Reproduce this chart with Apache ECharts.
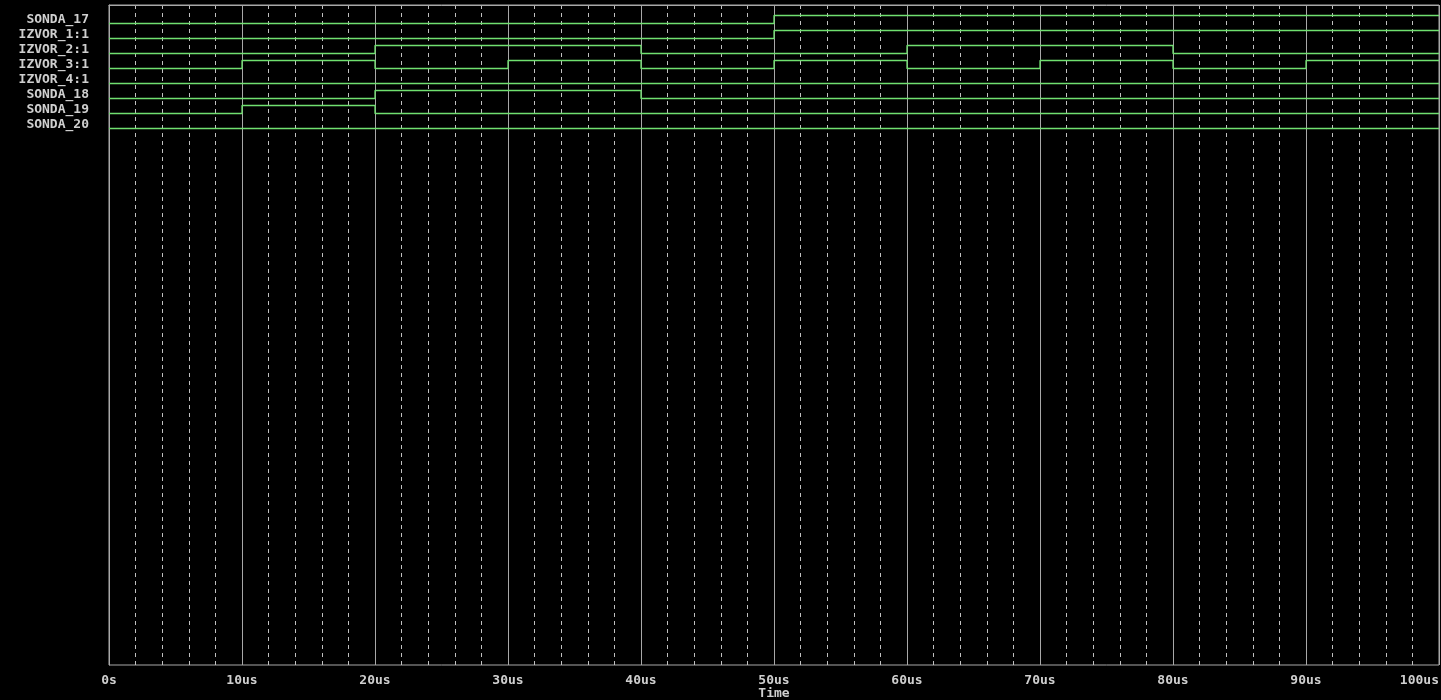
<!DOCTYPE html>
<html>
<head>
<meta charset="utf-8">
<script src="https://cdn.jsdelivr.net/npm/echarts@6/dist/echarts.min.js"></script>
<style>
html,body{margin:0;padding:0;background:#000;}
#chart{width:1441px;height:700px;}
</style>
</head>
<body>
<div id="chart"></div>
<script>
// Time points (us)
const times = [0, 10, 20, 30, 40, 50, 60, 70, 80, 90, 100];
// Signal names (top to bottom)
const signalNames = ['SONDA_17', 'IZVOR_1:1', 'IZVOR_2:1', 'IZVOR_3:1', 'IZVOR_4:1', 'SONDA_18', 'SONDA_19', 'SONDA_20'];
// Logic levels at each time point (0 = low, 1 = high)
const SONDA_17 = [0, 0, 0, 0, 0, 1, 1, 1, 1, 1, 1];
const IZVOR_1 = [0, 0, 0, 0, 0, 1, 1, 1, 1, 1, 1];
const IZVOR_2 = [0, 0, 1, 1, 0, 0, 1, 1, 0, 0, 0];
const IZVOR_3 = [0, 1, 0, 1, 0, 1, 0, 1, 0, 1, 1];
const IZVOR_4 = [0, 0, 0, 0, 0, 0, 0, 0, 0, 0, 0];
const SONDA_18 = [0, 0, 1, 1, 0, 0, 0, 0, 0, 0, 0];
const SONDA_19 = [0, 1, 0, 0, 0, 0, 0, 0, 0, 0, 0];
const SONDA_20 = [0, 0, 0, 0, 0, 0, 0, 0, 0, 0, 0];
// X tick labels
const xTickLabels = ['0s', '10us', '20us', '30us', '40us', '50us', '60us', '70us', '80us', '90us', '100us'];

const levels = [SONDA_17, IZVOR_1, IZVOR_2, IZVOR_3, IZVOR_4, SONDA_18, SONDA_19, SONDA_20];

const ROW_H = 15, LOW_OFF = 18.5, HIGH_H = 8;
const GREEN = '#70e070';
const GRAY = '#a8a8a8';
const TXT = '#cfcfcf';
const FONT = '"DejaVu Sans Mono", monospace';

const series = levels.map((lv, i) => ({
  name: signalNames[i],
  type: 'line',
  step: 'end',
  symbol: 'none',
  showSymbol: false,
  silent: true,
  animation: false,
  z: 10,
  color: GREEN,
  itemStyle: { color: GREEN },
  lineStyle: { color: GREEN, width: 1.3, opacity: 1 },
  emphasis: { disabled: true },
  data: times.map((t, k) => [t, LOW_OFF + ROW_H * i - HIGH_H * lv[k]])
}));

const chart = echarts.init(document.getElementById('chart'));
chart.setOption({
  backgroundColor: '#000',
  color: [GREEN],
  animation: false,
  grid: { left: 109, right: 2, top: 5, bottom: 35, containLabel: false, outerBoundsMode: 'none',
    show: true, borderColor: GRAY, borderWidth: 1, backgroundColor: 'transparent' },
  xAxis: {
    type: 'value', min: 0, max: 100, interval: 10,
    name: 'Time', nameLocation: 'middle', nameGap: 22, nameMoveOverlap: false,
    nameTextStyle: { color: TXT, fontFamily: FONT, fontWeight: 'bold', fontSize: 13 },
    axisLine: { show: true, lineStyle: { color: GRAY } },
    axisTick: { show: true, length: 5, lineStyle: { color: GRAY } },
    axisLabel: { color: TXT, fontFamily: FONT, fontWeight: 'bold', fontSize: 13, margin: 9,
      alignMaxLabel: 'right',
      formatter: v => xTickLabels[Math.round(v / 10)] },
    splitLine: { show: true, lineStyle: { color: GRAY, width: 1 } },
    minorTick: { show: false, splitNumber: 5 },
    minorSplitLine: { show: true, lineStyle: { color: '#c0c0c0', width: 1, type: [4, 4] } }
  },
  yAxis: {
    type: 'value', inverse: true, min: 0, max: 660, interval: 15,
    axisLine: { show: true, lineStyle: { color: GRAY } },
    axisTick: { show: false },
    splitLine: { show: false },
    minorSplitLine: { show: false },
    axisLabel: { color: TXT, fontFamily: FONT, fontWeight: 'bold', fontSize: 13, margin: 20,
      formatter: v => { const k = Math.round(v / 15) - 1; return (k >= 0 && k < signalNames.length) ? signalNames[k] : ''; } }
  },
  series: series
});
</script>
</body>
</html>
